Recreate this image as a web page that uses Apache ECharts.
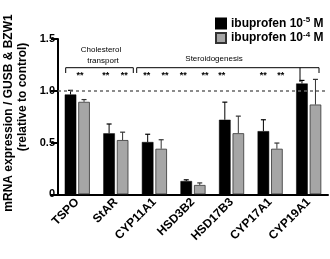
<!DOCTYPE html>
<html><head><meta charset="utf-8">
<script src="https://cdn.jsdelivr.net/npm/echarts@6/dist/echarts.min.js"></script>
<style>html,body{margin:0;padding:0;background:#fff}#c{width:330px;height:259px}</style>
</head><body><div id="c"></div>
<script>
const categories = ['TSPO','StAR','CYP11A1','HSD3B2','HSD17B3','CYP17A1','CYP19A1'];
const ibu5 = [0.964, 0.589, 0.505, 0.128, 0.72, 0.61, 1.07];
const ibu5Err = [0.04, 0.09, 0.075, 0.012, 0.17, 0.11, 0.03];
const ibu4 = [0.893, 0.524, 0.44, 0.09, 0.59, 0.44, 0.867];
const ibu4Err = [0.022, 0.076, 0.087, 0.02, 0.165, 0.055, 0.243];
const yTicks = [0, 0.5, 1.0, 1.5];
const starX = [80, 105.7, 124.3, 146.7, 165, 183.3, 205, 221.7, 263.3, 280.7];

const FONT = 'Liberation Sans, Arial, sans-serif';
const S5 = 'ibuprofen 10^-5 M', S4 = 'ibuprofen 10^-4 M';
const chart = echarts.init(document.getElementById('c'));

function errSeries(vals, errs, side, color) {
  return {
    type: 'custom',
    data: vals.map((v, i) => [i, v, errs[i]]),
    z: 1,
    silent: true,
    renderItem: function (params, api) {
      const i = api.value(0), v = api.value(1), e = api.value(2);
      const band = api.size([1, 0])[0];
      const dx = side * band * 0.175;
      const p0 = api.coord([i, v]);
      const p1 = api.coord([i, v + e]);
      const x = p0[0] + dx;
      return {
        type: 'group',
        children: [
          {type: 'line', shape: {x1: x, y1: p0[1], x2: x, y2: p1[1]}, style: {stroke: color, lineWidth: 1}},
          {type: 'line', shape: {x1: x - 2.5, y1: p1[1], x2: x + 2.5, y2: p1[1]}, style: {stroke: color, lineWidth: 1.2}}
        ]
      };
    }
  };
}

const graphics = [
  {type: 'text', x: 9, y: 113, rotation: Math.PI / 2, style: {text: 'mRNA expression / GUSB & BZW1', font: 'bold 12px ' + FONT, fill: '#000', align: 'center', verticalAlign: 'middle'}},
  {type: 'text', x: 23, y: 97, rotation: Math.PI / 2, style: {text: '(relative to control)', font: 'bold 12px ' + FONT, fill: '#000', align: 'center', verticalAlign: 'middle'}},
  {type: 'polyline', shape: {points: [[65.7, 73], [65.7, 67.7], [133.3, 67.7], [133.3, 73]]}, style: {stroke: '#000', lineWidth: 1, fill: null}},
  {type: 'polyline', shape: {points: [[136.7, 73], [136.7, 67.7], [319, 67.7], [319, 73]]}, style: {stroke: '#000', lineWidth: 1, fill: null}},
  {type: 'line', shape: {x1: 300, y1: 67.7, x2: 300, y2: 82}, style: {stroke: '#000', lineWidth: 1}},
  {type: 'text', x: 101, y: 50, style: {text: 'Cholesterol', font: '8px ' + FONT, fill: '#000', align: 'center', verticalAlign: 'middle'}},
  {type: 'text', x: 103, y: 61, style: {text: 'transport', font: '8px ' + FONT, fill: '#000', align: 'center', verticalAlign: 'middle'}},
  {type: 'text', x: 214, y: 59, style: {text: 'Steroidogenesis', font: '8px ' + FONT, fill: '#000', align: 'center', verticalAlign: 'middle'}}
];
starX.forEach(x => graphics.push({type: 'text', x: x, y: 76, style: {text: '**', font: 'bold 9px ' + FONT, fill: '#000', align: 'center', verticalAlign: 'middle'}}));

chart.setOption({
  animation: false,
  textStyle: {fontFamily: FONT},
  grid: {left: 58, right: 2, top: 39, bottom: 64.7},
  legend: {
    data: [S5, S4], orient: 'vertical', left: 215, top: 16, padding: 0,
    icon: 'rect', itemWidth: 10, itemHeight: 10, itemGap: 1,
    formatter: function (name) {
      const sup = name === S5 ? '-5' : '-4';
      return '{t|ibuprofen 10}{s|' + sup + '}{t| M}';
    },
    textStyle: {
      color: '#000', fontFamily: FONT, fontSize: 12, fontWeight: 'bold',
      rich: {
        t: {fontSize: 12, fontWeight: 'bold', fontFamily: FONT, color: '#000'},
        s: {fontSize: 8, fontWeight: 'bold', fontFamily: FONT, color: '#000', padding: [0, 0, 7, 0]}
      }
    }
  },
  xAxis: {
    type: 'category', data: categories,
    axisLine: {lineStyle: {color: '#000', width: 2}},
    axisTick: {alignWithLabel: true, length: 5, lineStyle: {color: '#000', width: 2}},
    axisLabel: {rotate: 45, fontSize: 12, fontWeight: 'bold', color: '#000', margin: 6, interval: 0}
  },
  yAxis: {
    type: 'value', min: 0, max: 1.5, interval: 0.5,
    splitLine: {show: false},
    axisLine: {show: true, lineStyle: {color: '#000', width: 2}},
    axisTick: {show: true, length: 7, lineStyle: {color: '#000', width: 2}},
    axisLabel: {fontSize: 11, fontWeight: 'bold', color: '#000', margin: 3,
      formatter: v => (yTicks.indexOf(v) >= 0 ? (v === 0 ? '0' : v.toFixed(1)) : '')}
  },
  series: [
    {name: S5, type: 'bar', data: ibu5, barWidth: '30%', barGap: '17%', z: 2,
      itemStyle: {color: '#000', borderColor: '#000', borderWidth: 0.5},
      markLine: {silent: true, symbol: 'none', label: {show: false}, data: [{yAxis: 1}],
        lineStyle: {type: [3, 3], color: '#666', width: 1.5}}},
    {name: S4, type: 'bar', data: ibu4, barWidth: '30%', barGap: '17%', z: 2,
      itemStyle: {color: '#a6a6a6', borderColor: '#333', borderWidth: 0.8}},
    errSeries(ibu5, ibu5Err, -1, '#000'),
    errSeries(ibu4, ibu4Err, 1, '#333')
  ],
  graphic: graphics
});
</script></body></html>
